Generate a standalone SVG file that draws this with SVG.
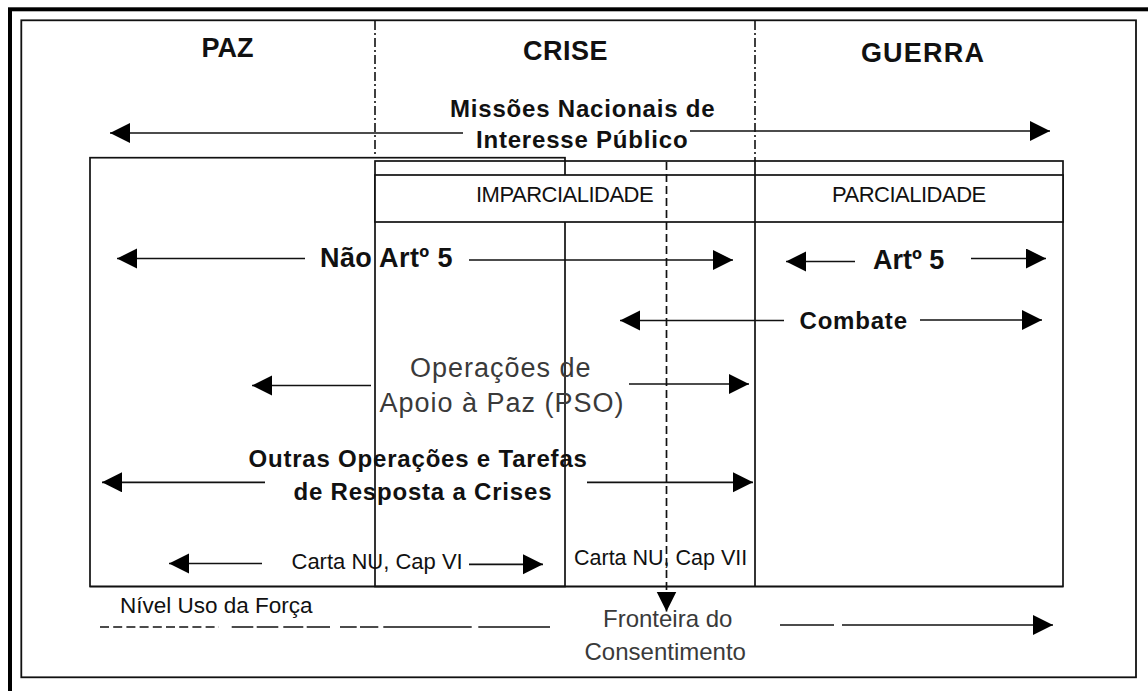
<svg xmlns="http://www.w3.org/2000/svg" width="1148" height="691" viewBox="0 0 1148 691">
<style>
.t{font-family:"Liberation Sans",Arial,sans-serif;fill:#111}
.b{font-weight:bold}
.g{fill:#3a3a3a}
.ln{stroke:#111;stroke-width:1.7;fill:none}
.ar{stroke:#111;stroke-width:1.7;fill:none;marker-end:url(#ah)}
.dd{stroke:#111;stroke-width:1.6;fill:none;stroke-dasharray:9 3 2 3}
</style>
<defs>
<marker id="ah" markerUnits="userSpaceOnUse" markerWidth="21" markerHeight="21" refX="20" refY="10" orient="auto" viewBox="0 0 21 21">
<path d="M0,0 L20,10 L0,20 Z" fill="#000"/>
</marker>
</defs>
<rect width="1148" height="691" fill="#fff"/>
<g id="frame">
<rect x="10" y="9.3" width="1160" height="700" fill="none" stroke="#000" stroke-width="4"/>
<rect x="21.3" y="20.3" width="1114.7" height="657" fill="none" stroke="#111" stroke-width="1.8"/>
</g>
<g id="phase-dividers">
<line class="dd" x1="375" y1="21" x2="375" y2="158"/>
<line class="dd" x1="755" y1="21" x2="755" y2="161"/>
</g>
<g id="phases">
<text class="t b" x="227.5" y="57" font-size="27" text-anchor="middle">PAZ</text>
<text class="t b" x="565.5" y="60" font-size="27" text-anchor="middle" letter-spacing="0.5">CRISE</text>
<text class="t b" x="923" y="62" font-size="27" text-anchor="middle" letter-spacing="1.2">GUERRA</text>
</g>
<g id="box-cap6">
<rect x="90" y="157.7" width="475" height="428.8" fill="none" stroke="#111" stroke-width="1.7"/>
</g>
<g id="box-crise-guerra">
<rect x="375" y="161" width="688" height="425.5" fill="none" stroke="#111" stroke-width="1.7"/>
<rect x="375" y="175" width="688" height="47" fill="#fff" stroke="#111" stroke-width="1.7"/>
<line class="ln" x1="755" y1="161" x2="755" y2="586.5"/>
<line class="ln" x1="90" y1="586.5" x2="1063" y2="586.5" stroke-width="2"/>
</g>
<g id="headers">
<text class="t" x="476" y="201.5" font-size="22" letter-spacing="-0.5">IMPARCIALIDADE</text>
<text class="t" x="832" y="201.5" font-size="22" letter-spacing="-0.5">PARCIALIDADE</text>
</g>
<g id="connectors">
<line class="ar" x1="463" y1="133" x2="110" y2="133"/>
<line class="ar" x1="690" y1="131" x2="1050" y2="131"/>
<line class="ar" x1="305" y1="258.5" x2="117" y2="258.5"/>
<line class="ar" x1="469" y1="260" x2="733" y2="260"/>
<line class="ar" x1="855" y1="261.5" x2="786" y2="261.5"/>
<line class="ar" x1="971" y1="258.5" x2="1046" y2="258.5"/>
<line class="ar" x1="784" y1="320.5" x2="620" y2="320.5"/>
<line class="ar" x1="920" y1="320" x2="1042" y2="320"/>
<line class="ar" x1="371" y1="385.5" x2="252" y2="385.5"/>
<line class="ar" x1="629" y1="384" x2="749" y2="384"/>
<line class="ar" x1="265" y1="482.3" x2="102" y2="482.3"/>
<line class="ar" x1="587" y1="482.3" x2="753" y2="482.3"/>
<line class="ar" x1="262" y1="563.5" x2="169" y2="563.5"/>
<line class="ar" x1="469" y1="564.3" x2="543" y2="564.3"/>
<line class="ar" x1="666.5" y1="162" x2="666.5" y2="611.5" stroke-dasharray="8 4"/>
<g id="forca-line">
<line class="ln" x1="100" y1="627" x2="219" y2="627" stroke-dasharray="9 4.2"/>
<path class="ln" d="M231.7,627H253.3 M256.7,627H278.3 M283.3,627H303.3 M306.7,627H330 M340,627H356.7 M360,627H378.3 M383.3,627H471.7 M478.3,627H550"/>
<line class="ln" x1="780" y1="625" x2="834" y2="625"/>
<line class="ar" x1="842" y1="625" x2="1053" y2="625"/>
</g>
</g>
<g id="labels">
<text class="t b" x="450" y="116.5" font-size="24" letter-spacing="0.8">Missões Nacionais de</text>
<text class="t b" x="476" y="148" font-size="24" letter-spacing="0.8">Interesse Público</text>
<text class="t b" x="320" y="267" font-size="27" letter-spacing="0.4">Não Artº 5</text>
<text class="t b" x="873" y="269" font-size="27">Artº 5</text>
<text class="t b" x="799.5" y="329" font-size="24" letter-spacing="0.8">Combate</text>
<text class="t g" x="410" y="376.5" font-size="27" letter-spacing="1">Operações de</text>
<text class="t g" x="379.5" y="411.5" font-size="27" letter-spacing="1">Apoio à Paz (PSO)</text>
<text class="t b" x="248.5" y="466.5" font-size="24" letter-spacing="0.8">Outras Operações e Tarefas</text>
<text class="t b" x="293.5" y="500" font-size="24" letter-spacing="0.8">de Resposta a Crises</text>
<text class="t" x="291.5" y="569" font-size="22">Carta NU, Cap VI</text>
<text class="t" x="574" y="565" font-size="21.5">Carta NU, Cap VII</text>
<text class="t" x="120" y="613" font-size="22.5">Nível Uso da Força</text>
<text class="t g" x="603" y="626.5" font-size="24">Fronteira do</text>
<text class="t g" x="584.5" y="660" font-size="24">Consentimento</text>
</g>
</svg>
